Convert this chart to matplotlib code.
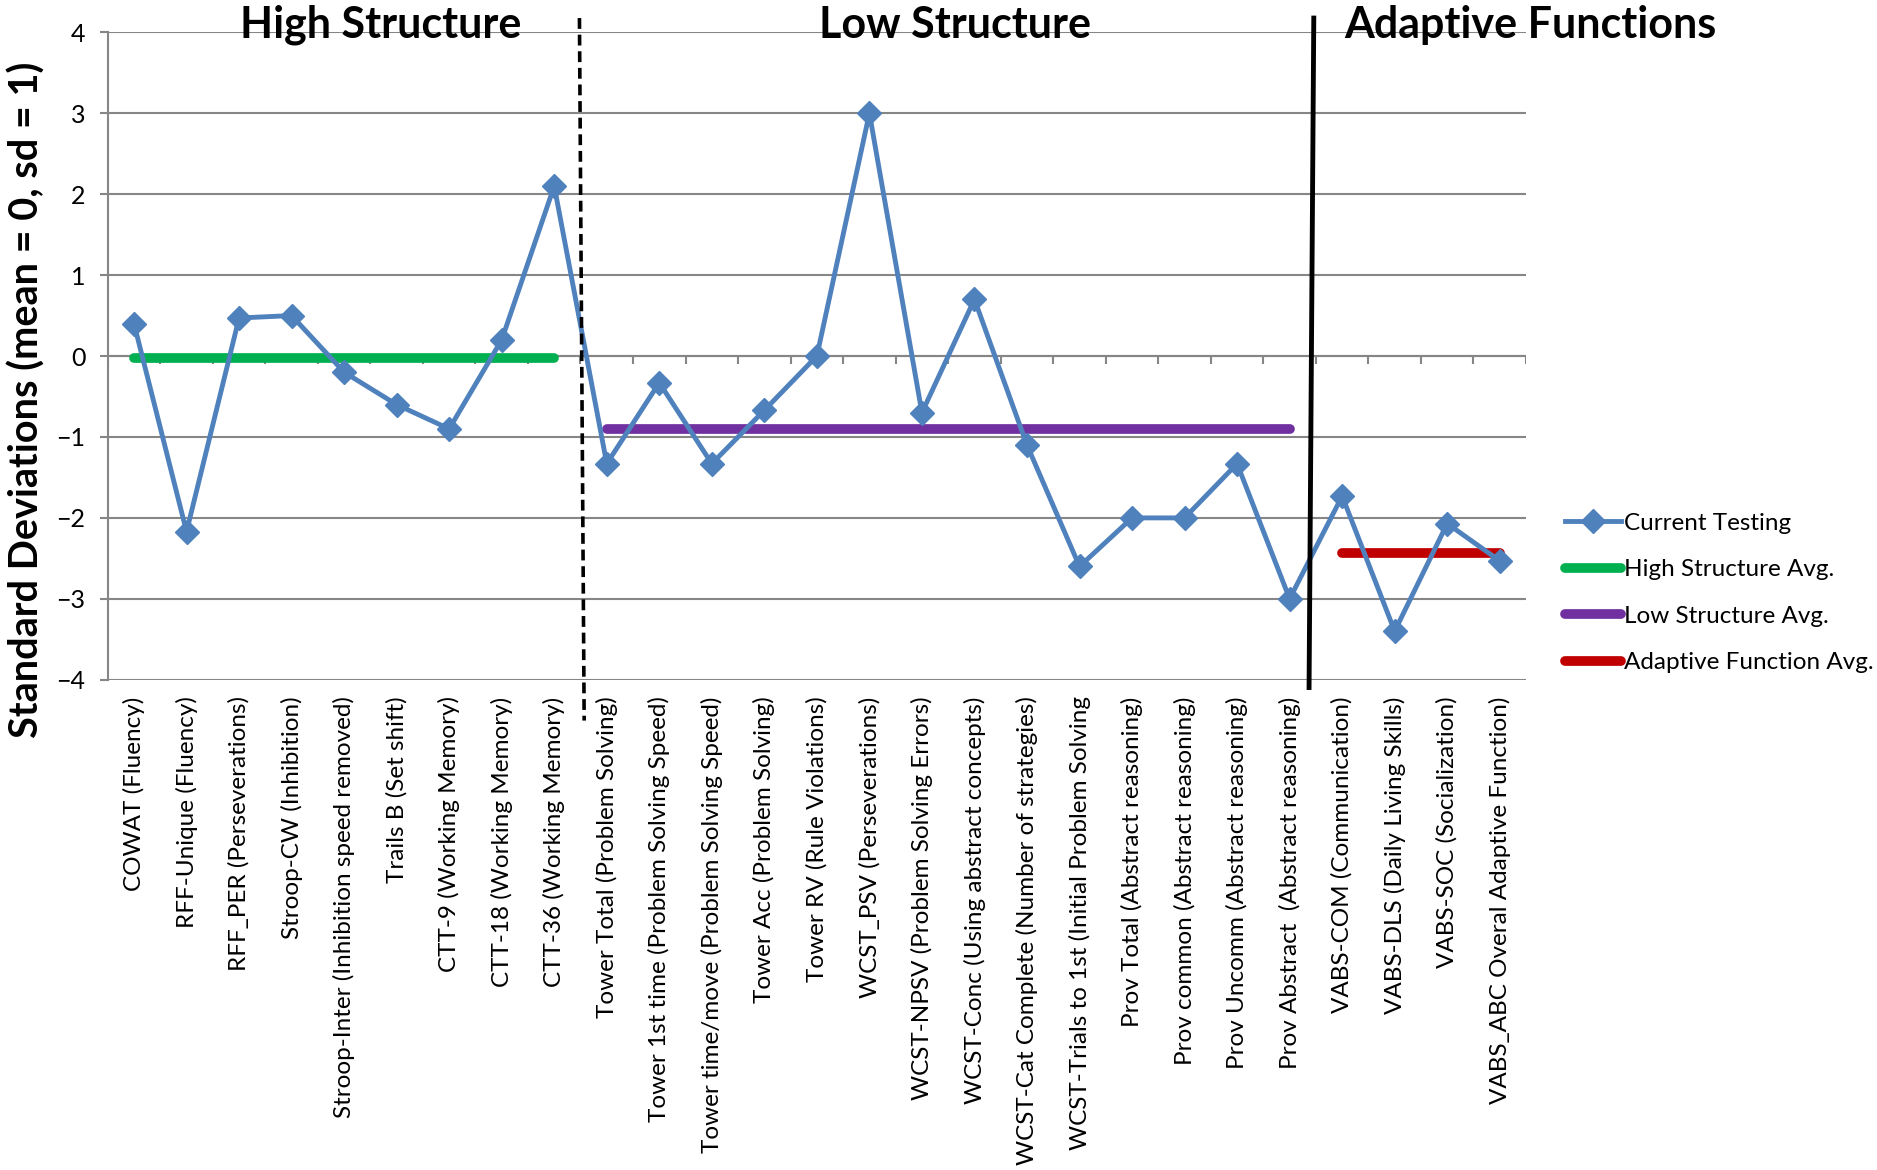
import numpy as np
import matplotlib
matplotlib.use("Agg")
from matplotlib import pyplot as plt

plt.rcParams['font.family'] = ['Lato', 'DejaVu Sans']

tests = [
    "COWAT (Fluency)", "RFF-Unique (Fluency)", "RFF_PER (Perseverations)",
    "Stroop-CW (Inhibition)", "Stroop-Inter (Inhibition speed removed)",
    "Trails B (Set shift)", "CTT-9 (Working Memory)", "CTT-18 (Working Memory)",
    "CTT-36 (Working Memory)",
    "Tower Total (Problem Solving)", "Tower 1st time (Problem Solving Speed)",
    "Tower time/move (Problem Solving Speed)", "Tower Acc (Problem Solving)",
    "Tower RV (Rule Violations)", "WCST_PSV (Perseverations)",
    "WCST-NPSV (Problem Solving Errors)", "WCST-Conc (Using abstract concepts)",
    "WCST-Cat Complete (Number of strategies)",
    "WCST-Trials to 1st (Initial Problem Solving", "Prov Total (Abstract reasoning)",
    "Prov common (Abstract reasoning)", "Prov Uncomm (Abstract reasoning)",
    "Prov Abstract  (Abstract reasoning)",
    "VABS-COM (Communication)", "VABS-DLS (Daily Living Skills)",
    "VABS-SOC (Socialization)", "VABS_ABC Overal Adaptive Function)",
]
current = [0.40, -2.17, 0.47, 0.50, -0.20, -0.60, -0.90, 0.20, 2.10,
           -1.33, -0.33, -1.33, -0.67, 0.00, 3.00, -0.70, 0.70, -1.10,
           -2.60, -2.00, -2.00, -1.33, -3.00,
           -1.73, -3.40, -2.07, -2.53]

group_names = ["High Structure", "Low Structure", "Adaptive Functions"]
group_sizes = [9, 14, 4]
group_avgs = [-0.02, -0.90, -2.43]
avg_labels = ["High Structure Avg.", "Low Structure Avg.", "Adaptive Function Avg."]
avg_colors = ["#00B050", "#7030A0", "#C00000"]

fig = plt.figure(figsize=(18.77, 11.70), dpi=100)
ax = fig.add_axes([0.0574, 0.419, 0.7556, 0.5534])

x = np.arange(len(tests))
ax.set_xlim(-0.5, len(tests) - 0.5)
ax.set_ylim(-4, 4)
ax.set_yticks(range(-4, 5))
ax.grid(axis='y', color='#868686', lw=1.5)
ax.set_axisbelow(True)
for side in ['top', 'right', 'bottom']:
    ax.spines[side].set_visible(False)
ax.spines['left'].set_color('#868686')
ax.spines['left'].set_linewidth(1.5)
ax.tick_params(axis='y', direction='out', length=6, width=1.5, color='#868686',
               pad=10, labelsize=18)
ax.set_xticks(x)
ax.set_xticklabels(tests, rotation=90, fontsize=17.5, va='top', ha='center')
ax.tick_params(axis='x', length=0, pad=12)

# horizontal axis at zero with boundary ticks
ax.axhline(0, color='#868686', lw=1.5, zorder=1)
ax.vlines(np.arange(len(tests) + 1) - 0.5, -0.1, 0, color='#868686', lw=1.5, zorder=1)

line, = ax.plot(x, current, color='#4F81BD', lw=3.5, marker='D', markersize=12,
                label='Current Testing', zorder=4)

handles = [line]
start = 0
for size, avg, lab, col in zip(group_sizes, group_avgs, avg_labels, avg_colors):
    h, = ax.plot([start, start + size - 1], [avg, avg], color=col, lw=7,
                 solid_capstyle='round', label=lab, zorder=3)
    handles.append(h)
    start += size

# section separators
b1 = group_sizes[0] - 0.5
b2 = group_sizes[0] + group_sizes[1] - 0.5
ax.plot([b1 - 0.02, b1 + 0.07], [1.022, -0.063], transform=ax.get_xaxis_transform(),
        color='black', lw=2.6, ls=(0, (3, 1.6)), clip_on=False, zorder=5)
ax.plot([b2 - 0.04, b2 - 0.13], [1.022, -0.012], transform=ax.get_xaxis_transform(),
        color='black', lw=3.5, clip_on=False, zorder=5)

for name, xc in zip(group_names, [4.69, 15.63, 26.58]):
    ax.text(xc, 1.012, name, transform=ax.get_xaxis_transform(), ha='center',
            va='center', fontsize=31, fontweight='bold', zorder=6)

fig.text(0.014, 0.658, "Standard Deviations (mean = 0, sd = 1)", rotation=90,
         ha='center', va='center', fontsize=28.5, fontweight='bold')

fig.legend(handles=handles, loc='center left', bbox_to_anchor=(0.834, 0.493),
           frameon=False, fontsize=17.5, handlelength=2.3, handletextpad=0.1,
           labelspacing=1.05, borderpad=0, borderaxespad=0, numpoints=1)

fig.savefig('out.png', dpi=100)
